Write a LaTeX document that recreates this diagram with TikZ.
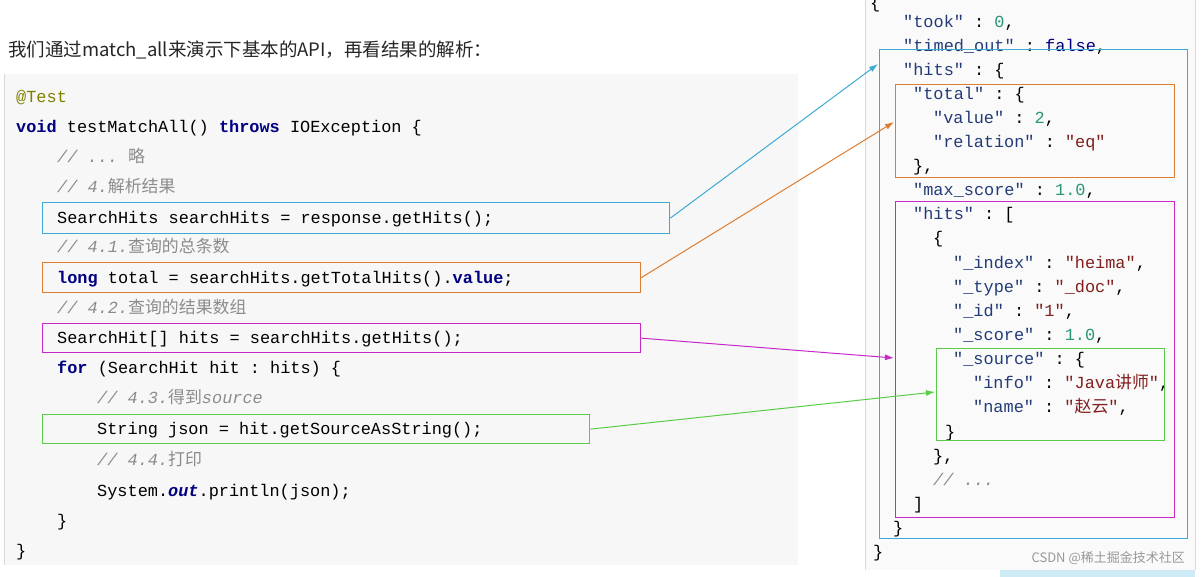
\documentclass[tikz,border=0pt]{standalone}
\usepackage{fontspec}
\setmainfont{Noto Sans}
\setmonofont{Liberation Mono}
\newfontfamily\cjk{Noto Sans CJK SC}
\usetikzlibrary{arrows.meta}
\definecolor{cblue}{RGB}{60,170,210}
\definecolor{corange}{RGB}{220,125,50}
\definecolor{cpurple}{RGB}{200,40,200}
\definecolor{cgreen}{RGB}{90,205,70}
\definecolor{kw}{RGB}{0,0,128}
\definecolor{cmt}{RGB}{140,140,140}
\definecolor{ann}{RGB}{128,128,0}
\definecolor{jkey}{RGB}{35,60,120}
\definecolor{jstr}{RGB}{130,30,30}
\definecolor{jnum}{RGB}{40,150,120}
\tikzset{
 code/.style={anchor=base west,inner sep=0,font=\fontsize{16.9}{18}\ttfamily},
 box/.style={draw=#1,line width=1.3pt},
 conn/.style={draw=#1,line width=1pt,-{Latex[length=9pt,width=6pt]}}
}
\newcommand{\K}[1]{\textcolor{kw}{\textbf{#1}}}
\newcommand{\C}[1]{\textcolor{cmt}{\textit{#1}}}
\newcommand{\jk}[1]{\textcolor{jkey}{#1}}
\newcommand{\js}[1]{\textcolor{jstr}{#1}}
\newcommand{\jn}[1]{\textcolor{jnum}{#1}}
\begin{document}
\begin{tikzpicture}[x=1pt,y=-1pt]
\useasboundingbox (0,0) rectangle (1203,577);
\fill[white] (0,0) rectangle (1203,577);
% title
\node[anchor=base west,inner sep=0,font=\cjk\fontsize{18.5}{20}\selectfont,text=black!85] (title) at (8,57) {我们通过match\_all来演示下基本的API，再看结果的解析：};
% code panel
\fill[black!3] (4,74) rectangle (798,565);
\draw[black!15] (4,74) -- (4,565);
\node[code,text=ann] (l1) at (16,103) {@Test};
\node[code] (l2) at (16,133) {\K{void} testMatchAll() \K{throws} IOException \{};
\node[code] (l3) at (57,163) {\C{// ... {\cjk 略}}};
\node[code] (l4) at (57,193) {\C{// 4.{\cjk 解析结果}}};
\node[code] (l5) at (57,224) {SearchHits searchHits = response.getHits();};
\node[code] (l6) at (57,253) {\C{// 4.1.{\cjk 查询的总条数}}};
\node[code] (l7) at (57,284) {\K{long} total = searchHits.getTotalHits().\K{value};};
\node[code] (l8) at (57,314) {\C{// 4.2.{\cjk 查询的结果数组}}};
\node[code] (l9) at (57,344) {SearchHit[] hits = searchHits.getHits();};
\node[code] (l10) at (57,374) {\K{for} (SearchHit hit : hits) \{};
\node[code] (l11) at (97,404) {\C{// 4.3.{\cjk 得到}source}};
\node[code] (l12) at (97,435) {String json = hit.getSourceAsString();};
\node[code] (l13) at (97,465) {\C{// 4.4.{\cjk 打印}}};
\node[code] (l14) at (97,496) {System.\K{\textit{out}}.println(json);};
\node[code] (l15) at (57,526) {\}};
\node[code] (l16) at (16,556) {\}};
% code boxes
\node[box=cblue,minimum width=627pt,minimum height=31pt,anchor=north west] (b1) at (42,202) {};
\node[box=corange,minimum width=598pt,minimum height=30pt,anchor=north west] (b2) at (42,262) {};
\node[box=cpurple,minimum width=598pt,minimum height=29pt,anchor=north west] (b3) at (42,323) {};
\node[box=cgreen,minimum width=547pt,minimum height=29pt,anchor=north west] (b4) at (42,414) {};
% json panel
\fill[black!2] (865,0) rectangle (1195,570);
\draw[black!15] (865,0) -- (865,570) (1195,0) -- (1195,570);
\fill[cblue!25] (1000,570) rectangle (1195,577);
\node[code] (j0) at (870,9) {\{};
\node[code] (j1) at (903,28) {\jk{"took"} : \jn{0},};
\node[code] (j2) at (903,52) {\jk{"timed\_out"} : \textcolor{kw}{false},};
\node[code] (j3) at (903,76) {\jk{"hits"} : \{};
\node[code] (j4) at (913,100) {\jk{"total"} : \{};
\node[code] (j5) at (933,124) {\jk{"value"} : \jn{2},};
\node[code] (j6) at (933,148) {\jk{"relation"} : \js{"eq"}};
\node[code] (j7) at (913,172) {\},};
\node[code] (j8) at (913,196) {\jk{"max\_score"} : \jn{1.0},};
\node[code] (j9) at (913,220) {\jk{"hits"} : [};
\node[code] (j10) at (933,244) {\{};
\node[code] (j11) at (953,269) {\jk{"\_index"} : \js{"heima"},};
\node[code] (j12) at (953,293) {\jk{"\_type"} : \js{"\_doc"},};
\node[code] (j13) at (953,317) {\jk{"\_id"} : \js{"1"},};
\node[code] (j14) at (953,341) {\jk{"\_score"} : \jn{1.0},};
\node[code] (j15) at (953,365) {\jk{"\_source"} : \{};
\node[code] (j16) at (973,389) {\jk{"info"} : \js{"Java{\cjk 讲师}"},};
\node[code] (j17) at (973,413) {\jk{"name"} : \js{"{\cjk 赵云}"},};
\node[code] (j18) at (945,437) {\}};
\node[code] (j19) at (933,461) {\},};
\node[code] (j20) at (933,485) {\C{// ...}};
\node[code] (j21) at (913,509) {]};
\node[code] (j22) at (893,533) {\}};
\node[code] (j23) at (873,557) {\}};
% json boxes
\node[box=cblue,minimum width=308pt,minimum height=489pt,anchor=north west] (c1) at (879,49) {};
\node[box=corange,minimum width=279pt,minimum height=93pt,anchor=north west] (c2) at (895,84) {};
\node[box=cpurple,minimum width=279pt,minimum height=316pt,anchor=north west] (c3) at (895,201) {};
\node[box=cgreen,minimum width=228pt,minimum height=92pt,anchor=north west] (c4) at (936,348) {};
% connectors
\coordinate (t1) at (878,64);
\coordinate (t2) at (894,122);
\coordinate (t3) at (894,358);
\coordinate (t4) at (935,392);
\draw[conn=cblue] (b1.east) -- (t1);
\draw[conn=corange] (b2.east) -- (t2);
\draw[conn=cpurple] (b3.east) -- (t3);
\draw[conn=cgreen] (b4.east) -- (t4);
\node[anchor=base east,inner sep=0,font=\cjk\fontsize{13}{14}\selectfont,text=black!40] (wm) at (1185,562) {CSDN @稀土掘金技术社区};
\end{tikzpicture}
\end{document}
